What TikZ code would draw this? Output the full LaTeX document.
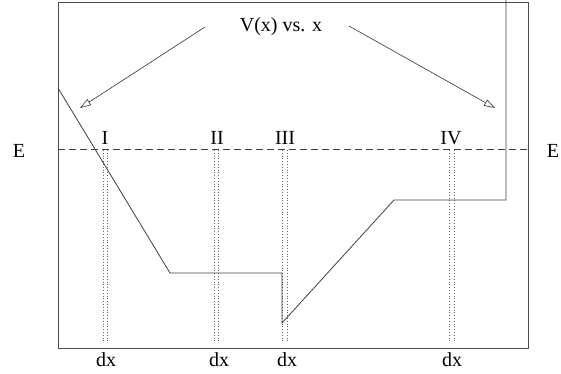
\documentclass[tikz,border=0pt]{standalone}
\usepackage{fontspec}
\setmainfont{Liberation Serif}
\usetikzlibrary{arrows.meta}
\begin{document}
\begin{tikzpicture}[x=1pt,y=-1pt,
  frame/.style={draw=black!70,line width=0.8pt},
  curve/.style={draw=black!75,line width=0.8pt,line join=miter},
  eline/.style={draw=black!75,line width=0.7pt,dash pattern=on 7pt off 4pt},
  dotline/.style={draw=black!60,line width=0.6pt,dash pattern=on 0.8pt off 2pt},
  lbl/.style={font=\fontsize{20}{22}\selectfont,inner sep=0pt},
  pointer/.style={draw=black!80,line width=0.6pt,-{Triangle[open,length=11pt,width=7pt]}}]
\useasboundingbox (0,0) rectangle (561,373);
% frame
\draw[frame] (58,2) rectangle (528,348);
% energy line
\draw[eline] (58,149) -- (528,149);
\node[lbl] (EL) at (19,151) {E};
\node[lbl] (ER) at (553,151) {E};
% dotted dx strips
\foreach \a/\b in {103.5/107.5, 214/218, 282.5/287, 449.5/454}{
  \draw[dotline] (\a,150) -- (\a,343);
  \draw[dotline] (\b,150) -- (\b,343);
}
% potential
\coordinate (p0) at (58,88);
\coordinate (p1) at (170,273);
\coordinate (p2) at (282,273);
\coordinate (p3) at (282,323);
\coordinate (p4) at (394,200);
\coordinate (p5) at (506,200);
\coordinate (p6) at (506,0);
\draw[curve] (p0) -- (p1) -- (p2) -- (p3) -- (p4) -- (p5) -- (p6);
% region labels
\node[lbl,anchor=base] (r1) at (105,144) {I};
\node[lbl,anchor=base] (r2) at (217,144) {II};
\node[lbl,anchor=base] (r3) at (285,144) {III};
\node[lbl,anchor=base] (r4) at (451,144) {IV};
% dx labels
\node[lbl,anchor=base] (d1) at (106,366) {dx};
\node[lbl,anchor=base] (d2) at (219,366) {dx};
\node[lbl,anchor=base] (d3) at (287,366) {dx};
\node[lbl,anchor=base] (d4) at (452,366) {dx};
% title and pointers
\node[lbl,anchor=base] (title) at (281,31) {V(x) vs. x};
\coordinate (tl) at (205,27);
\coordinate (tr) at (349,26);
\coordinate (al) at (80,108);
\coordinate (ar) at (495,108);
\draw[pointer] (tl) -- (al);
\draw[pointer] (tr) -- (ar);
\end{tikzpicture}
\end{document}
